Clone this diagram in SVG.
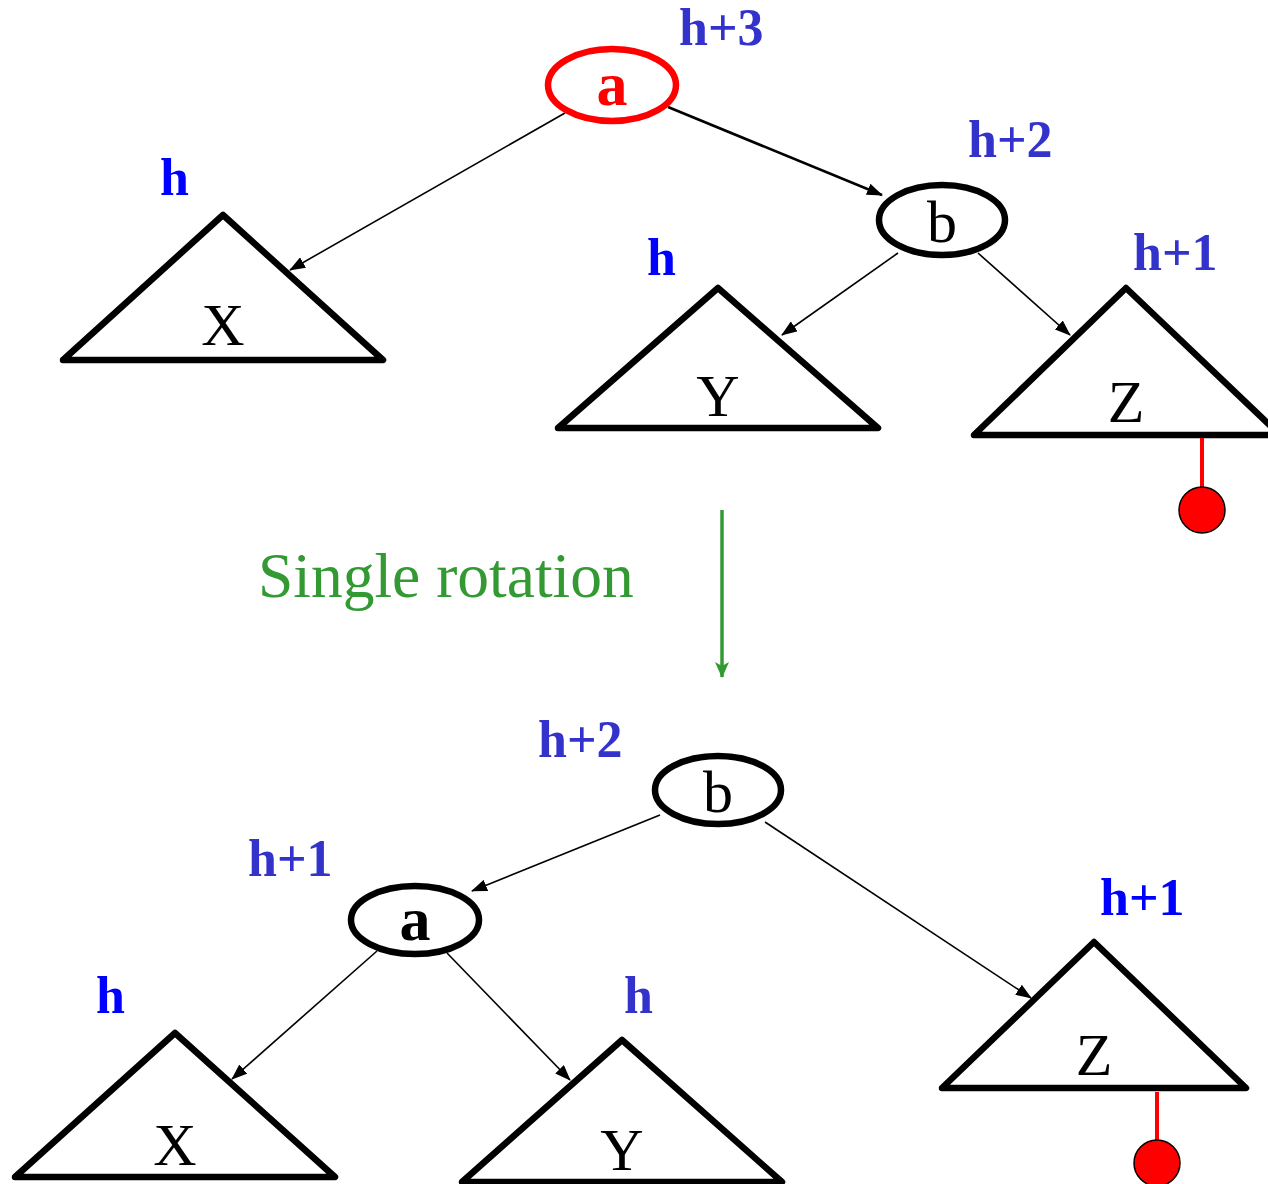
<svg xmlns="http://www.w3.org/2000/svg" width="1268" height="1184" viewBox="0 0 1268 1184">
<defs>
<marker id="ah" markerUnits="userSpaceOnUse" markerWidth="16" markerHeight="12" refX="15" refY="6" orient="auto"><path d="M0,0 L16,6 L0,12 Z" fill="#000"/></marker>
<marker id="gh" markerUnits="userSpaceOnUse" markerWidth="16" markerHeight="16" refX="15" refY="8" orient="auto"><path d="M0,1 L16,8 L0,15 L4,8 Z" fill="#339933"/></marker>
<style>
.tri{fill:none;stroke:#000;stroke-width:6.5;stroke-linejoin:round;stroke-linecap:round}
.node{fill:#fff;stroke:#000;stroke-width:6.5}
.lbl{font-family:"Liberation Serif",serif;font-weight:bold;font-size:52px}
.c1{fill:#3333CC}
.c2{fill:#0000FF}
.big{font-family:"Liberation Serif",serif;font-size:60px;text-anchor:middle;fill:#000}
.edge{stroke:#000;stroke-width:1.6;fill:none;marker-end:url(#ah)}
.pin{stroke:#FF0000;stroke-width:4}
.dot{fill:#FF0000;stroke:#000;stroke-width:1.5}
</style>
</defs>
<g id="connectors">
<line class="edge" x1="565" y1="113" x2="290" y2="270"/>
<line class="edge" x1="668" y1="107" x2="882" y2="195" style="stroke-width:2.6"/>
<line class="edge" x1="898" y1="253" x2="782" y2="335"/>
<line class="edge" x1="978" y1="253" x2="1070" y2="335"/>
<line x1="722" y1="510" x2="722" y2="677" stroke="#339933" stroke-width="3.5" marker-end="url(#gh)"/>
<line class="edge" x1="660" y1="815" x2="472" y2="891"/>
<line class="edge" x1="765" y1="822" x2="1031" y2="998"/>
<line class="edge" x1="377" y1="951" x2="232" y2="1079"/>
<line class="edge" x1="447" y1="953" x2="570" y2="1080"/>
</g>
<g id="top-a"><ellipse cx="612" cy="85" rx="64" ry="36" fill="#fff" stroke="#FF0000" stroke-width="6.5"/><text x="612" y="105" class="big" style="font-weight:bold;fill:#FF0000;font-size:62px">a</text><text x="679" y="45" class="lbl c1">h+3</text></g>
<g id="top-b"><ellipse class="node" cx="942" cy="220" rx="63" ry="35"/><text x="942" y="242" class="big">b</text><text x="968" y="157" class="lbl c1">h+2</text></g>
<g id="top-X"><path class="tri" d="M223,215 L383,360 L63,360 Z"/><text x="223" y="345" class="big">X</text><text x="160" y="195" class="lbl c2">h</text></g>
<g id="top-Y"><path class="tri" d="M718,288 L878,428 L558,428 Z"/><text x="718" y="416" class="big">Y</text><text x="647" y="275" class="lbl c2">h</text></g>
<g id="top-Z"><path class="tri" d="M1126,288 L1280,435 L974,435 Z"/><text x="1126" y="422" class="big">Z</text><text x="1133" y="270" class="lbl c1">h+1</text><line class="pin" x1="1202" y1="438" x2="1202" y2="487"/><circle class="dot" cx="1202" cy="510" r="23"/></g>
<g id="label"><text x="258" y="597" style="font-family:'Liberation Serif',serif;font-size:63.5px;fill:#339933">Single rotation</text></g>
<g id="bot-b"><ellipse class="node" cx="718" cy="790" rx="63" ry="34"/><text x="718" y="812" class="big">b</text><text x="538" y="757" class="lbl c1">h+2</text></g>
<g id="bot-a"><ellipse class="node" cx="415" cy="920" rx="64" ry="34"/><text x="415" y="940" class="big" style="font-weight:bold;font-size:62px">a</text><text x="248" y="876" class="lbl c1">h+1</text></g>
<g id="bot-Z"><path class="tri" d="M1094,942 L1246,1088 L942,1088 Z"/><text x="1094" y="1075" class="big">Z</text><text x="1100" y="915" class="lbl c2">h+1</text><line class="pin" x1="1157" y1="1092" x2="1157" y2="1140"/><circle class="dot" cx="1157" cy="1163" r="23"/></g>
<g id="bot-X"><path class="tri" d="M175,1033 L335,1177 L15,1177 Z"/><text x="175" y="1165" class="big">X</text><text x="96" y="1013" class="lbl c2">h</text></g>
<g id="bot-Y"><path class="tri" d="M622,1040 L782,1182 L462,1182 Z"/><text x="622" y="1170" class="big">Y</text><text x="624" y="1013" class="lbl c1">h</text></g>
</svg>
